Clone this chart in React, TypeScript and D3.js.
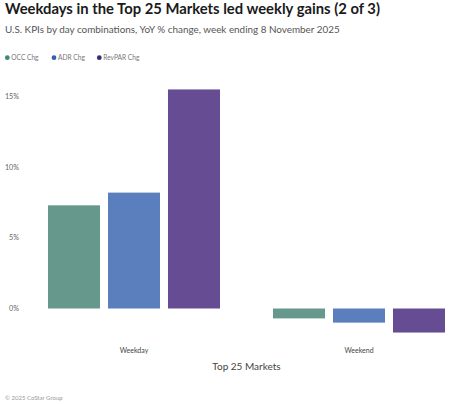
import React from "react";
import * as d3 from "d3";

const categories = ["Weekday", "Weekend"];
const seriesNames = ["OCC Chg", "ADR Chg", "RevPAR Chg"];
const occValues = [7.3, -0.7];
const adrValues = [8.2, -1.0];
const revparValues = [15.5, -1.7];
const yTicks = [0, 5, 10, 15];

const barColors = ["#66998b", "#5b7fbd", "#654c93"];
const dotColors = ["#3f8a72", "#3461ad", "#3a2a7e"];

const W = 465;
const H = 404;
const FONT = "Lato, 'Open Sans', sans-serif";

export default function App() {
  const series = [occValues, adrValues, revparValues];

  const x0 = d3
    .scaleBand<string>()
    .domain(categories)
    .range([34.5, 458.5])
    .paddingInner(0.2356)
    .paddingOuter(0.06);

  const x1 = d3
    .scaleBand<string>()
    .domain(seriesNames)
    .range([0, x0.bandwidth()])
    .paddingInner(0.133)
    .paddingOuter(0);

  const y = d3.scaleLinear().domain([0, 15]).range([308.5, 96.5]);

  return (
    <div style={{ position: "absolute", left: 0, top: 0 }}>
      <svg width={W} height={H} style={{ display: "block", fontFamily: FONT }}>
        <rect width={W} height={H} fill="#fff" />

        {/* title + subtitle */}
        <text x={5} y={14} fontSize={14.8} fontWeight={700} fill="#1a1a1a">
          Weekdays in the Top 25 Markets led weekly gains (2 of 3)
        </text>
        <text x={5} y={32.5} fontSize={9.9} fill="#555">
          U.S. KPIs by day combinations, YoY % change, week ending 8 November 2025
        </text>

        {/* legend */}
        {seriesNames.map((name, i) => {
          const lx = [7.3, 54, 99.3][i];
          return (
            <g key={name}>
              <circle cx={lx} cy={57.7} r={2.4} fill={dotColors[i]} />
              <text x={lx + 4} y={60} fontSize={6.6} fill="#777">
                {name}
              </text>
            </g>
          );
        })}

        {/* y axis labels */}
        {yTicks.map((t) => (
          <text
            key={t}
            x={19}
            y={y(t) + 2.5}
            fontSize={7.2}
            fill="#666"
            textAnchor="end"
          >
            {t}%
          </text>
        ))}

        {/* bars */}
        {categories.map((cat, ci) => (
          <g key={cat} transform={`translate(${x0(cat)},0)`}>
            {seriesNames.map((s, si) => {
              const v = series[si][ci];
              const top = y(Math.max(0, v));
              const h = Math.abs(y(v) - y(0));
              return (
                <rect
                  key={s}
                  x={x1(s)}
                  y={top}
                  width={x1.bandwidth()}
                  height={h}
                  fill={barColors[si]}
                />
              );
            })}
            <text
              x={x0.bandwidth() / 2}
              y={352.5}
              fontSize={7}
              fill="#444"
              textAnchor="middle"
            >
              {cat}
            </text>
          </g>
        ))}

        {/* x axis title */}
        <text x={246.5} y={370} fontSize={10} fill="#444" textAnchor="middle">
          Top 25 Markets
        </text>

        <text x={5} y={400} fontSize={6} fill="#999">
          © 2025 CoStar Group
        </text>
      </svg>
    </div>
  );
}
